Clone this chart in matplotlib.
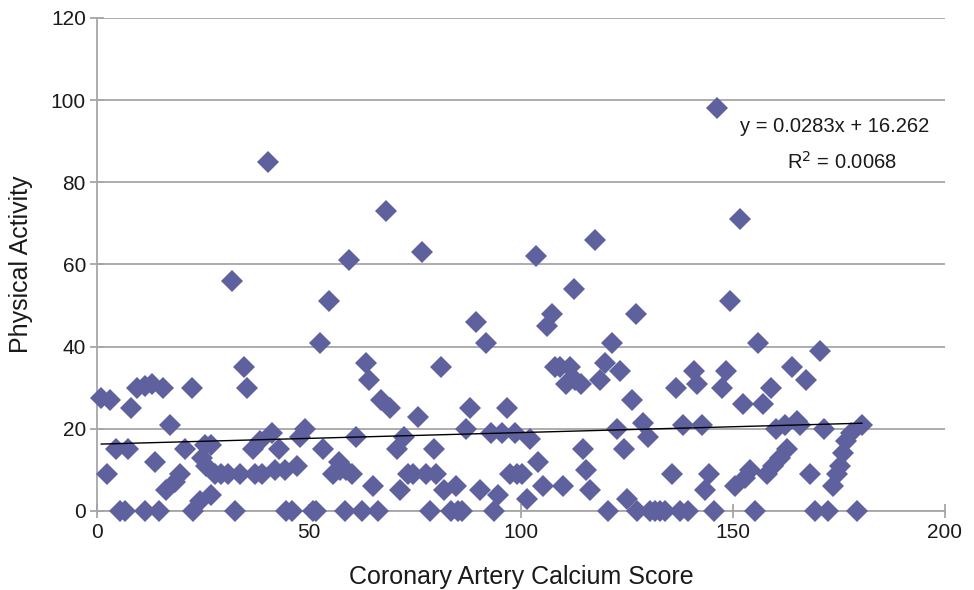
import matplotlib
matplotlib.use("Agg")
import matplotlib.pyplot as plt
import numpy as np

plt.rcParams['font.family'] = ['Liberation Sans', 'DejaVu Sans']

# Coronary Artery Calcium Score (x) and Physical Activity (y)
cac_score = [1, 3, 2.4, 4.5, 5.4, 6.6, 7.3, 8, 9.4, 11.3, 13, 11.3, 13.7, 14.6, 15.6, 17.2, 16.3, 18.4, 19.6, 20.8,
             22.4, 22.6, 24.3, 24.8, 25.7, 25.5, 26.9, 26.9, 27.8, 29.2, 30.9, 31.8, 32.5, 33.7, 34.7, 35.4, 36.8, 37.3,
             38.4, 38.9, 40.3, 41.3, 42, 42.9, 44.3, 44.6, 46, 47.2, 47.9, 49, 50.9, 51.7, 52.6, 53.3, 54.7, 55.7,
             57.1, 57.3, 58.7, 59.4, 58.5, 60.1, 61.1, 62.5, 63.4, 64.2, 65.1, 66.3, 67, 68.2, 69.1, 70.8, 71.5, 72.4,
             73.3, 74.5, 75.7, 76.7, 77.6, 78.5, 79.5, 80, 81.1, 81.8, 83.5, 85.1, 84.7, 86, 87, 88, 89.4, 90.3, 91.7,
             92.9, 93.6, 94.6, 95.5, 96.7, 97.4, 98.6, 99, 100.2, 101.4, 102.1, 103.5, 104, 105.2, 106.1, 107.3, 108,
             109.2, 109.9, 110.6, 111.6, 112.5, 112.7, 114.2, 114.6, 115.3, 116.3, 117.5, 118.6, 119.8, 120.5, 121.5,
             122.6, 123.3, 124.3, 125, 126.2, 127.1, 127.4, 128.8, 130, 130.4, 131.6, 132.8, 134, 135.6, 136.6, 137.5,
             138.2, 139.4, 140.8, 141.5, 142.7, 143.4, 144.3, 145.5, 146.2, 147.4, 148.3, 149.3, 150.5, 151.7, 152.4,
             152.8, 154, 155.2, 155.9, 157.1, 158, 159, 159.4, 160.1, 161, 162.3, 162.7, 163.9, 165.1, 165.8, 167.2,
             168.2, 169.3, 170.5, 171.5, 172.4, 173.6, 174.5, 175.2, 175.9, 176.7, 177.8, 179.2, 180.4]
physical_activity = [27.5, 27, 9, 15, 0, 0, 15, 25, 30, 30.5, 31, 0, 12, 0, 30, 21, 5, 7, 9, 15,
                     30, 0, 2.5, 13, 11, 16, 16, 4, 9, 9, 9, 56, 0, 9, 35, 30, 15, 9,
                     17, 9, 85, 19, 10, 15, 10, 0, 0, 11, 18, 20, 0, 0, 41, 15, 51, 9,
                     12, 10, 10, 61, 0, 9, 18, 0, 36, 32, 6, 0, 27, 73, 25, 15, 5, 18,
                     9, 9, 23, 63, 9, 0, 15, 9, 35, 5, 0, 0, 6, 0, 20, 25, 46, 5, 41,
                     19, 0, 4, 19, 25, 9, 19, 9, 9, 3, 17.5, 62, 12, 6, 45, 48, 35,
                     35, 6, 31, 35, 54, 32, 31, 15, 10, 5, 66, 32, 36, 0, 41,
                     20, 34, 15, 3, 27, 48, 0, 21.5, 18, 0, 0, 0, 0, 9, 30, 0,
                     21, 0, 34, 31, 21, 5, 9, 0, 98, 30, 34, 51, 6, 71, 26,
                     8, 10, 0, 41, 26, 9, 30, 11, 20, 13, 21, 15, 35, 22, 21, 32,
                     9, 0, 39, 20, 0, 6, 9, 11, 14, 17, 19, 0, 21]

trend_slope = 0.0283
trend_intercept = 16.262
x_ticks = [0, 50, 100, 150, 200]
y_ticks = [0, 20, 40, 60, 80, 100, 120]

fig = plt.figure(figsize=(9.74, 5.90), dpi=100)
ax = fig.add_axes([0.0996, 0.1339, 0.8706, 0.8356])

ax.set_xlim(0, 200)
ax.set_ylim(0, 120)
ax.set_xticks(x_ticks)
ax.set_yticks(y_ticks)

grid_col = '#a6a6a6'
text_col = '#1a1a1a'
ax.yaxis.grid(True, color=grid_col, linewidth=1.3)
ax.set_axisbelow(True)
for s in ['top', 'right']:
    ax.spines[s].set_visible(False)
for s in ['left', 'bottom']:
    ax.spines[s].set_color(grid_col)
    ax.spines[s].set_linewidth(1.3)
ax.tick_params(axis='both', direction='inout', colors=grid_col, length=10, width=1.3,
               labelsize=15, labelcolor=text_col)
ax.tick_params(axis='y', pad=3)
ax.tick_params(axis='x', pad=4)

ax.plot(cac_score, physical_activity, linestyle='none', marker='D', markersize=11.5,
        color='#5f609e', markeredgewidth=0, clip_on=False, zorder=3)

xs = np.array([min(cac_score), max(cac_score)])
ax.plot(xs, trend_slope * xs + trend_intercept, color='black', linewidth=1.0, zorder=4)

ax.text(0.982, 0.779, 'y = 0.0283x + 16.262', transform=ax.transAxes, ha='right', va='center',
        fontsize=14.5, color=text_col)
ax.text(0.879, 0.708, 'R$^2$ = 0.0068', transform=ax.transAxes, ha='center', va='center',
        fontsize=14.5, color=text_col)

ax.set_xlabel('Coronary Artery Calcium Score', fontsize=18, color=text_col, labelpad=16)
ax.set_ylabel('Physical Activity', fontsize=18, color=text_col, labelpad=13)

fig.savefig('out.png', dpi=100)
